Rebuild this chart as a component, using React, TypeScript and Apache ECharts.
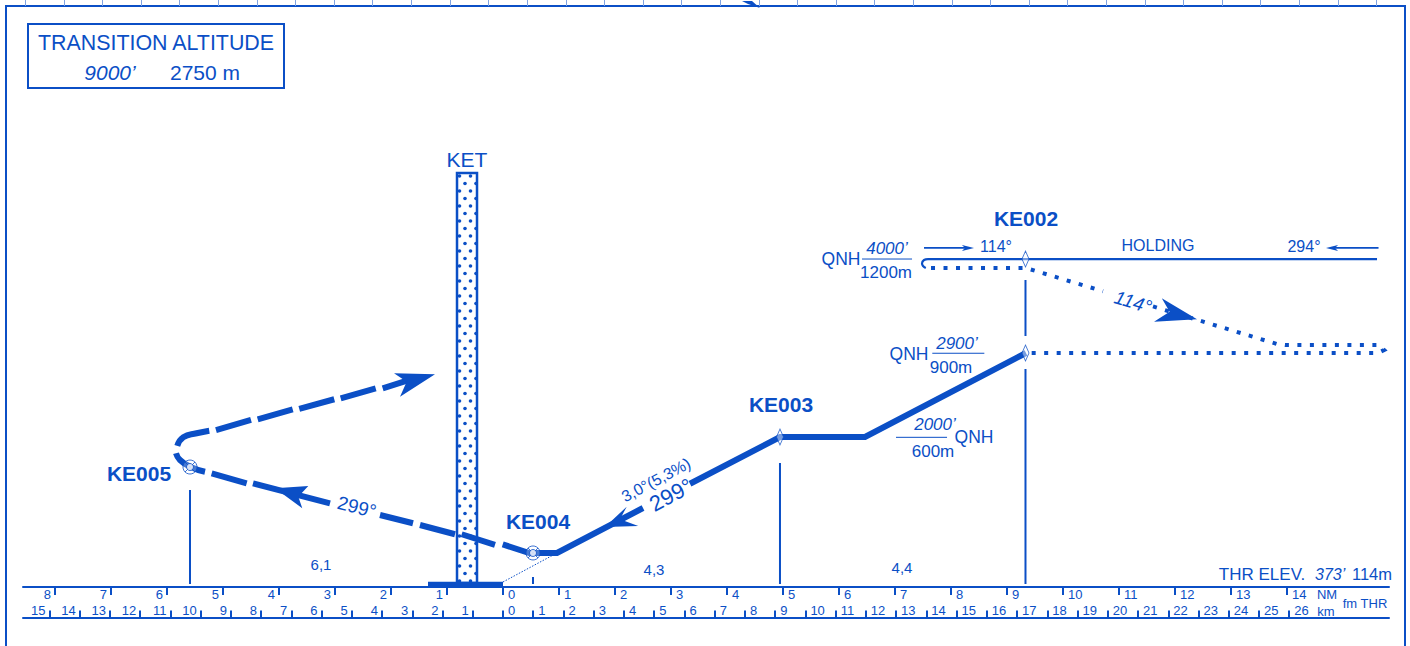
import React, { useEffect, useRef } from "react";
import * as echarts from "echarts";

const BLUE = "#0B4FC6";
const FONT = '"Liberation Sans", Arial, sans-serif';

// Distance scales (negative = beyond threshold)
const nmTicksBefore = [-8, -7, -6, -5, -4, -3, -2, -1];
const nmTicksAfter = [0, 1, 2, 3, 4, 5, 6, 7, 8, 9, 10, 11, 12, 13, 14];
const kmTicksBefore = [-15, -14, -13, -12, -11, -10, -9, -8, -7, -6, -5, -4, -3, -2, -1];
const kmTicksAfter = [0, 1, 2, 3, 4, 5, 6, 7, 8, 9, 10, 11, 12, 13, 14, 15, 16, 17, 18, 19, 20, 21, 22, 23, 24, 25, 26];
const rulerTicks = [0.5, 1.5, 2.5, 3.5, 4.5, 5.5, 6.5, 7.5, 8.5, 9.5, 10.5, 11.5, 12.5, 13.5, 14.5, 15.5, 16.5, 17.5, 18.5, 19.5, 20.5, 21.5, 22.5, 23.5, 24.5, 25.5, 26.5, 27.5, 28.5, 29.5, 30.5, 31.5, 32.5, 33.5, 34.5, 35.5];

const GAP: [null, null] = [null, null];

// Profile values: [distance NM, height ft on the chart's drawing scale]
const approachPath = [[0.536, 378], [0.964, 378], [2.5, 878], GAP, [3.339, 1147], [4.946, 1667], [6.464, 1667], [9.339, 2600]];
const inboundDashes = [
  [-0.005, 474], [0.482, 374], [0.6, 378], GAP,
  [-0.738, 586], [-0.143, 467], GAP,
  [-1.482, 689], [-0.857, 586], GAP,
  [-2.196, 800], [-1.607, 708], GAP,
  [-4.464, 1152], [-3.089, 930], GAP,
  [-5.202, 1263], [-4.577, 1152],
];
const outboundDashes = [
  [-5.125, 1744], [-4.5, 1856], GAP,
  [-4.38, 1863], [-3.755, 1974], GAP,
  [-3.638, 1978], [-3.013, 2086], GAP,
  [-2.898, 2097], [-2.273, 2208], GAP,
  [-2.148, 2208], [-1.714, 2292],
];
const procedureTurn = [
  [-5.321, 1281], [-5.589, 1337], [-5.768, 1411], [-5.839, 1486], GAP,
  [-5.816, 1567], [-5.709, 1663], [-5.47, 1708], [-5.245, 1737],
];
const holdingLine = [[7.589, 3644], [15.607, 3644]];
const holdingHook = [[7.589, 3644], [7.518, 3633], [7.482, 3594], [7.5, 3567], [7.55, 3544]];
const holdingArrows = [[7.518, 3767], [8.3, 3767], GAP, [14.8, 3767], [15.634, 3767]];
const missedPath = [
  [7.643, 3544], [9.339, 3544], [10.714, 3286], GAP,
  [11.607, 3117], [13.821, 2700], [13.964, 2689], [15.625, 2689], [15.732, 2633], [15.625, 2600], [9.411, 2600],
];
const dropLines = [
  [-5.589, 1078], [-5.589, 33], GAP,
  [0.536, 111], [0.536, 33], GAP,
  [4.946, 1378], [4.946, 33], GAP,
  [9.33, 3411], [9.33, 2789], GAP,
  [9.33, 2422], [9.33, 33],
];
const fractionBars = [[6.411, 3644], [7.304, 3644], GAP, [7.666, 2597], [8.595, 2597], GAP, [7.018, 1663], [7.929, 1663]];
const runwayBar = [[-1.339, 28], [0, 28]];
const glideExtension = [[0, 56], [0.964, 378]];
const flyoverFixes = [[0.536, 378], [-5.589, 1333]];
const flybyFixes = [[4.946, 1667], [9.33, 3644], [9.33, 2600]];
const towerBox = [[-0.821, -0.464, 4600, 44]];
const arrowHeads = [
  [[1.821, 667], [2.209, 892], [2.089, 752], [2.416, 678]],
  [[-4.071, 1097], [-3.477, 1122], [-3.655, 1003], [-3.584, 874]],
  [[-1.214, 2363], [-1.946, 2374], [-1.72, 2281], [-1.839, 2114]],
  [[12.393, 2974], [11.764, 3208], [11.904, 3059], [11.625, 2948]],
  [[8.411, 3767], [8.196, 3800], [8.25, 3767], [8.196, 3733]],
  [[14.696, 3767], [14.911, 3800], [14.857, 3767], [14.911, 3733]],
  [[4.268, 6511], [4.446, 6511], [4.589, 6433], [4.375, 6478]],
];

const line = (data: any[], width: number, extra: any = {}) => ({
  type: "line",
  data,
  symbol: "none",
  silent: true,
  clip: false,
  lineStyle: { color: BLUE, width, cap: "butt", join: "miter", ...(extra.lineStyle || {}) },
  ...(extra.smooth ? { smooth: extra.smooth } : {}),
  z: extra.z ?? 3,
});

const scaleAxis = (min: number, max: number, ticks: number[], side: "before" | "after", lower: boolean, showLine: boolean) => ({
  type: "value",
  gridIndex: 0,
  position: "bottom",
  offset: lower ? 30.5 : 0,
  min,
  max,
  splitLine: { show: false },
  axisLine: { show: showLine, onZero: false, lineStyle: { color: BLUE, width: 2 } },
  axisTick: { show: true, inside: lower, length: lower ? 7 : 8, customValues: ticks, lineStyle: { color: BLUE, width: 2 } },
  axisLabel: {
    show: true,
    inside: lower,
    customValues: ticks,
    margin: lower ? 1 : 1,
    color: BLUE,
    fontFamily: FONT,
    fontSize: 13,
    align: side === "before" ? "right" : "left",
    padding: side === "before" ? [0, 4, 0, 0] : [0, 0, 0, 5],
    formatter: (v: number) => String(Math.abs(v)),
  },
});

const label = (text: string, x: number, y: number, size: number, extra: any = {}) => ({
  type: "text",
  x,
  y,
  rotation: ((extra.rotate ?? 0) * Math.PI) / 180,
  z: 20,
  style: {
    text,
    fill: BLUE,
    fontFamily: FONT,
    fontSize: size,
    fontWeight: extra.bold ? "bold" : "normal",
    fontStyle: extra.italic ? "italic" : "normal",
    align: extra.align ?? "center",
    textAlign: extra.align ?? "center",
    verticalAlign: "middle",
    textVerticalAlign: "middle",
  },
});

export default function App() {
  const ref = useRef<HTMLDivElement>(null);
  useEffect(() => {
    if (!ref.current) return;
    const chart = echarts.init(ref.current, undefined, { renderer: "svg" });

    const dots = document.createElement("canvas");
    dots.width = 11;
    dots.height = 15;
    const ctx = dots.getContext("2d")!;
    ctx.fillStyle = "#ffffff";
    ctx.fillRect(0, 0, 11, 15);
    ctx.fillStyle = BLUE;
    for (const [cx, cy] of [[3, 3.5], [8.5, 11]]) {
      ctx.beginPath();
      ctx.arc(cx, cy, 1.8, 0, Math.PI * 2);
      ctx.fill();
    }

    chart.setOption({
      animation: false,
      backgroundColor: "#ffffff",
      grid: [
        { left: 23, top: 0, width: 1366, height: 587, show: false },
        { left: 6, top: 6, width: 1399, height: 660, show: true, borderColor: BLUE, borderWidth: 2, backgroundColor: "transparent" },
      ],
      xAxis: [
        scaleAxis(-8.571, 15.821, nmTicksBefore, "before", false, true),
        scaleAxis(-8.571, 15.821, nmTicksAfter, "after", false, false),
        scaleAxis(-15.874, 29.3, kmTicksBefore, "before", true, true),
        scaleAxis(-15.874, 29.3, kmTicksAfter, "after", true, false),
        {
          type: "value",
          gridIndex: 1,
          position: "top",
          min: 0,
          max: 36.24,
          splitLine: { show: false },
          axisLine: { show: false, onZero: false },
          axisTick: { show: true, length: 6, customValues: rulerTicks, lineStyle: { color: "#7FA3E2", width: 1 } },
          axisLabel: { show: false },
        },
      ],
      yAxis: [
        { type: "value", gridIndex: 0, min: 0, max: 6522, show: false },
        { type: "value", gridIndex: 1, min: 0, max: 1, show: false },
      ],
      series: [
        line(dropLines, 2),
        line(fractionBars, 1),
        line(glideExtension, 1, { lineStyle: { type: [1.5, 1.5] } }),
        line(runwayBar, 5.5),
        {
          type: "custom",
          silent: true,
          clip: false,
          z: 2,
          data: towerBox,
          renderItem: (_p: any, api: any) => {
            const a = api.coord([api.value(0), api.value(2)]);
            const b = api.coord([api.value(1), api.value(3)]);
            return {
              type: "rect",
              shape: { x: a[0], y: a[1], width: b[0] - a[0], height: b[1] - a[1] },
              style: { fill: { image: dots, repeat: "repeat" }, stroke: BLUE, lineWidth: 2.5 },
            };
          },
        },
        line(approachPath, 6),
        line(inboundDashes, 6),
        line(outboundDashes, 6),
        line(procedureTurn, 6, { smooth: 0.5 }),
        line(holdingLine, 2.2),
        line(holdingHook, 2.2, { smooth: 0.5 }),
        line(holdingArrows, 1.7),
        line(missedPath, 4, { lineStyle: { type: [4, 8.5] } }),
        {
          type: "custom",
          silent: true,
          clip: false,
          z: 4,
          data: arrowHeads.map((_, i) => [i, i]),
          renderItem: (p: any, api: any) => ({
            type: "polygon",
            shape: { points: arrowHeads[p.dataIndex].map((pt) => api.coord(pt)) },
            style: { fill: BLUE },
          }),
        },
        {
          type: "scatter",
          silent: true,
          z: 5,
          data: flyoverFixes,
          symbol: "circle",
          symbolSize: 14,
          itemStyle: { color: "rgba(255,255,255,0.3)", borderColor: BLUE, borderWidth: 1 },
        },
        {
          type: "scatter",
          silent: true,
          z: 5,
          data: flyoverFixes,
          symbol: "path://M0 0L10 10M0 10L10 0",
          symbolSize: 10,
          itemStyle: { color: "none", borderColor: BLUE, borderWidth: 1 },
        },
        {
          type: "scatter",
          silent: true,
          z: 6,
          data: flyoverFixes,
          symbol: "circle",
          symbolSize: 7,
          itemStyle: { color: "#ffffff", borderColor: BLUE, borderWidth: 1 },
        },
        {
          type: "scatter",
          silent: true,
          z: 5,
          data: flybyFixes,
          symbol: "diamond",
          symbolSize: [7, 16],
          itemStyle: { color: "rgba(255,255,255,0.55)", borderColor: BLUE, borderWidth: 1 },
        },
      ],
      graphic: [
        {
          type: "rect",
          z: 20,
          shape: { x: 28, y: 24, width: 256, height: 64 },
          style: { fill: "none", stroke: BLUE, lineWidth: 2 },
        },
        label("TRANSITION ALTITUDE", 156, 43, 21.4),
        label("9000\u2019", 110, 72, 21, { italic: true }),
        label("2750 m", 205, 72, 21),
        label("KET", 467, 159, 21),
        label("KE002", 1026, 218, 21, { bold: true }),
        label("KE003", 781, 404, 21, { bold: true }),
        label("KE004", 538, 521, 21, { bold: true }),
        label("KE005", 139, 473, 21, { bold: true }),
        label("QNH", 841, 259, 17.5),
        label("4000\u2019", 887, 248, 17, { italic: true }),
        label("1200m", 886, 272, 17),
        label("114\u00B0", 996, 246, 16),
        label("HOLDING", 1158, 245, 16),
        label("294\u00B0", 1304, 246, 16),
        label("114\u00B0", 1133, 302, 19, { italic: true, rotate: -17 }),
        label("QNH", 909, 354, 17.5),
        label("2900\u2019", 957, 343, 17, { italic: true }),
        label("900m", 951, 367, 17),
        label("2000\u2019", 935, 424, 17, { italic: true }),
        label("600m", 933, 451, 17),
        label("QNH", 974, 437, 17.5),
        label("299\u00B0", 357, 507, 19, { rotate: -14 }),
        label("3,0\u00B0(5,3%)", 656, 480, 16, { rotate: 28 }),
        label("299\u00B0", 671, 495, 22, { rotate: 28 }),
        label("6,1", 321, 564, 15),
        label("4,3", 654, 569, 15),
        label("4,4", 902, 567, 15),
        label("THR ELEV.", 1262, 574, 17),
        label("373\u2019", 1315, 574, 16, { italic: true, align: "left" }),
        label("114m", 1392, 574, 16.5, { align: "right" }),
        label("NM", 1327, 594, 13),
        label("km", 1326, 611, 13),
        label("fm THR", 1365, 603, 13),
      ],
    });
    return () => chart.dispose();
  }, []);
  return (
    <div style={{ position: "fixed", left: 0, top: 0, width: 1410, height: 646, overflow: "hidden" }}>
      <div ref={ref} style={{ width: 1410, height: 680 }} />
    </div>
  );
}
